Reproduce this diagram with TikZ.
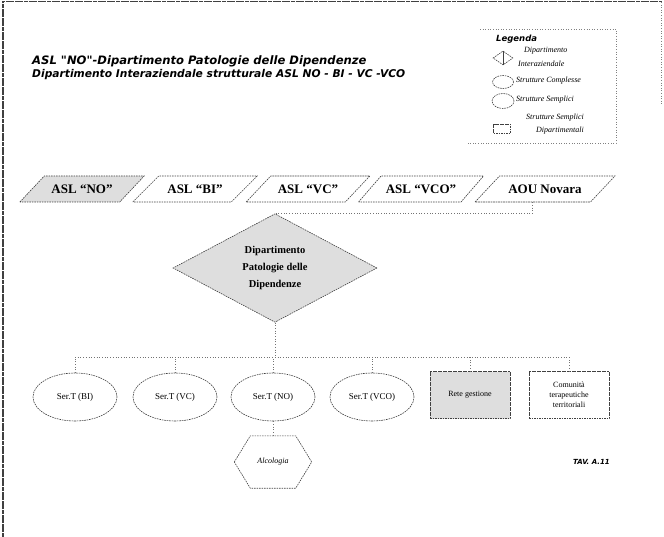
\documentclass[tikz,border=0pt]{standalone}
\usepackage{fontspec}
\setmainfont{Liberation Serif}
\newfontfamily\hdfont{DejaVu Sans}
\usetikzlibrary{shapes.geometric,calc}
\begin{document}
\begin{tikzpicture}[x=1pt,y=-1pt,
  brd/.style={draw=black!75, dash pattern=on 1.6pt off 0.9pt, line width=0.6pt},
  link/.style={draw=black!55, dotted, line width=0.7pt},
  para/.style={brd, trapezium, trapezium left angle=38, trapezium right angle=142,
    trapezium stretches=true, minimum width=125pt, minimum height=26pt, inner xsep=0pt,
    font=\bfseries\fontsize{13}{14}\selectfont},
  serte/.style={brd, ellipse, minimum width=84pt, minimum height=48pt, inner sep=0pt,
    font=\fontsize{9}{10}\selectfont},
  boxd/.style={brd, rectangle, minimum width=80pt, minimum height=47pt, inner sep=1pt,
    align=center, font=\fontsize{8}{10}\selectfont},
  legt/.style={anchor=west, font=\itshape\fontsize{8}{9}\selectfont, inner sep=0pt},
  shade/.style={fill=black!13}
]
\useasboundingbox (0,0) rectangle (664,537);
% page frame
\draw[black!75, line width=1.3pt, dash pattern=on 4pt off 0.6pt] (3,537) -- (3,1.5) -- (662,1.5);
\draw[black!50, dotted, line width=0.6pt] (661,2) -- (661,105);

% title
\node[anchor=west, inner sep=0pt, font=\hdfont\bfseries\itshape\fontsize{11.6}{13}\selectfont] (t1) at (32,61)
  {ASL "NO"-Dipartimento Patologie delle Dipendenze};
\node[anchor=west, inner sep=0pt, font=\hdfont\bfseries\itshape\fontsize{10.7}{12}\selectfont] (t2) at (32,75)
  {Dipartimento Interaziendale strutturale ASL NO - BI - VC -VCO};

% legend
\draw[black!50, dotted, line width=0.6pt] (480,29) -- (616,29) -- (616,143) -- (466,143);
\node[anchor=west, inner sep=0pt, font=\hdfont\bfseries\itshape\fontsize{8.5}{10}\selectfont] (leg) at (496,39) {Legenda};
\node[brd, diamond, minimum width=20pt, minimum height=14pt, inner sep=0pt] (ls1) at (503,58) {};
\draw[black!75, line width=0.6pt] (ls1.north) -- (ls1.south);
\node[legt] (lt1a) at (524,51) {Dipartimento};
\node[legt] (lt1b) at (518,64) {Interaziendale};
\node[brd, ellipse, minimum width=21pt, minimum height=13pt, inner sep=0pt] (ls2) at (503,82) {};
\node[legt] (lt2) at (516,81) {Strutture Complesse};
\node[brd, ellipse, minimum width=22pt, minimum height=15pt, inner sep=0pt] (ls3) at (503,101) {};
\node[legt] (lt3) at (516,100) {Strutture Semplici};
\node[legt] (lt4a) at (526,118) {Strutture Semplici};
\node[brd, rectangle, minimum width=17pt, minimum height=9pt, inner sep=0pt] (ls4) at (502,129) {};
\node[legt] (lt4b) at (536,131) {Dipartimentali};

% ASL row
\node[para, shade] (a1) at (82,189) {ASL “NO”};
\node[para] (a2) at (195,189) {ASL “BI”};
\node[para] (a3) at (308,189) {ASL “VC”};
\node[para] (a4) at (421,189) {ASL “VCO”};
\node[para, minimum width=140pt] (a5) at (545,189) {AOU Novara};

% department diamond
\node[brd, shade, diamond, minimum width=204pt, minimum height=80pt, inner sep=0pt, align=center,
  font=\bfseries\fontsize{10.5}{17}\selectfont] (dip) at (275,268)
  {Dipartimento\\Patologie delle\\Dipendenze};
\coordinate (a5b) at ($(a5.bottom left corner)!0.5!(a5.bottom right corner)$);
\draw[link] (a5b) |- (dip.north);

% structures
\node[serte] (s1) at (75,397) {Ser.T (BI)};
\node[serte] (s2) at (175,397) {Ser.T (VC)};
\node[serte] (s3) at (273,397) {Ser.T (NO)};
\node[serte] (s4) at (372,397) {Ser.T (VCO)};
\node[boxd, shade] (r1) at (470,395) {Rete gestione};
\node[boxd] (r2) at (569,395) {Comunità\\terapeutiche\\territoriali};

\coordinate (busL) at (75,357);
\draw[link] (busL) -- (busL -| r2.north);
\draw[link] (dip.south) -- (dip.south |- busL);
\foreach \n in {s1,s2,s3,s4,r1,r2} \draw[link] (\n.north) -- (\n.north |- busL);

% hexagon
\node[inner sep=0pt, minimum width=77pt, minimum height=52pt, font=\itshape\fontsize{8}{9}\selectfont] (alc) at (273,462) {Alcologia};
\draw[brd] (alc.west) -- ($(alc.north west)+(16,0)$) -- ($(alc.north east)+(-16,0)$) -- (alc.east)
  -- ($(alc.south east)+(-16,0)$) -- ($(alc.south west)+(16,0)$) -- cycle;
\draw[link] (s3.south) -- (alc.north);

% table ref
\node[anchor=west, inner sep=0pt, font=\hdfont\bfseries\itshape\fontsize{7}{8}\selectfont] (tav) at (573,462) {TAV. A.11};
\end{tikzpicture}
\end{document}
